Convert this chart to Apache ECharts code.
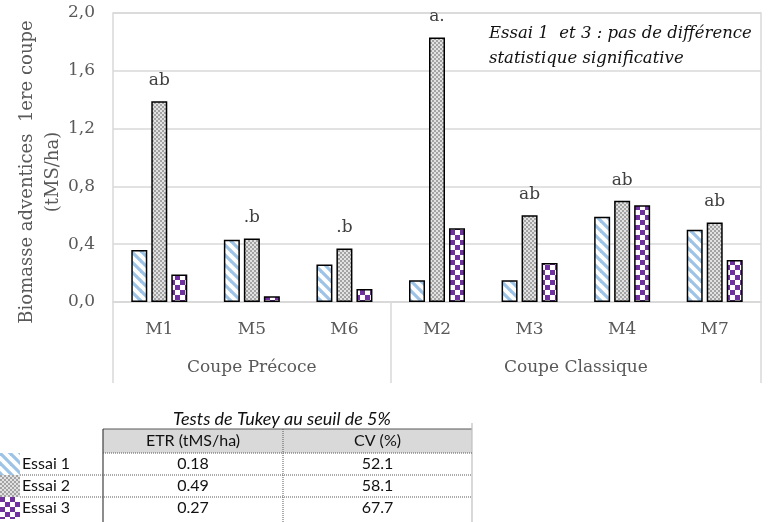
<!DOCTYPE html>
<html>
<head>
<meta charset="utf-8">
<script src="https://cdn.jsdelivr.net/npm/echarts@6/dist/echarts.min.js"></script>
<style>
  html, body { margin: 0; padding: 0; background: #fff; }
  #chart { width: 768px; height: 522px; }
</style>
</head>
<body>
<div id="chart"></div>
<script>
const categories = ['M1', 'M5', 'M6', 'M2', 'M3', 'M4', 'M7'];
const essai1 = [0.36, 0.43, 0.26, 0.15, 0.15, 0.59, 0.50];
const essai2 = [1.39, 0.44, 0.37, 1.83, 0.60, 0.70, 0.55];
const essai3 = [0.19, 0.04, 0.09, 0.51, 0.27, 0.67, 0.29];
const tukeyLetters = ['ab', '.b', '.b', 'a.', 'ab', 'ab', 'ab'];

const groupNames = ['Coupe Précoce', 'Coupe Classique'];
const groupSizes = [3, 4];

const trials = ['Essai 1', 'Essai 2', 'Essai 3'];
const etr = ['0.18', '0.49', '0.27'];
const cv = ['52.1', '58.1', '67.7'];

const serif = 'DejaVu Serif';
const sans = 'Lato';
const axisGrey = '#595959';
const gridGrey = '#d9d9d9';

// motifs des barres
function stripes() {
  const s = 10;
  const c = document.createElement('canvas');
  c.width = s; c.height = s;
  const ctx = c.getContext('2d');
  ctx.fillStyle = '#fff';
  ctx.fillRect(0, 0, s, s);
  ctx.strokeStyle = '#9dc3e6';
  ctx.lineWidth = 3.2;
  for (let k = -1; k <= 1; k++) {
    ctx.beginPath();
    ctx.moveTo(k * s - 1, -1);
    ctx.lineTo(k * s + s + 1, s + 1);
    ctx.stroke();
  }
  return c;
}
function greyDots() {
  const c = document.createElement('canvas');
  c.width = 4; c.height = 4;
  const ctx = c.getContext('2d');
  ctx.fillStyle = '#e2e2e2';
  ctx.fillRect(0, 0, 4, 4);
  ctx.fillStyle = '#a3a3a3';
  ctx.fillRect(0, 0, 2, 2);
  ctx.fillRect(2, 2, 2, 2);
  return c;
}
function checker() {
  const c = document.createElement('canvas');
  c.width = 10; c.height = 10;
  const ctx = c.getContext('2d');
  ctx.fillStyle = '#fff';
  ctx.fillRect(0, 0, 10, 10);
  ctx.fillStyle = '#7030a0';
  ctx.fillRect(0, 0, 5, 5);
  ctx.fillRect(5, 5, 5, 5);
  return c;
}

const patterns = [stripes(), greyDots(), checker()];
const seriesData = [essai1, essai2, essai3];

// bornes et centres des groupes sur un axe 0..7
const bounds = [0];
groupSizes.forEach(n => bounds.push(bounds[bounds.length - 1] + n));
const centers = groupSizes.map((n, i) => bounds[i] + n / 2);

const chart = echarts.init(document.getElementById('chart'));

// tableau de Tukey
const tableLeft = 103, tableRight = 472, colDiv = 283;
const headTop = 429, headH = 24, rowH = 22;
const tableBottom = 522;
const col1 = (tableLeft + colDiv) / 2, col2 = (colDiv + tableRight) / 2;
const dotted = { stroke: '#595959', lineWidth: 1, lineDash: [1, 1] };

const graphics = [
  {
    type: 'text', x: 489, y: 21,
    style: {
      text: 'Essai 1  et 3 : pas de différence\nstatistique significative',
      font: 'italic 16.5px "' + serif + '"', fill: '#111', lineHeight: 25
    }
  },
  {
    type: 'text', x: 40, y: 172, rotation: Math.PI / 2,
    style: {
      text: 'Biomasse adventices  1ere coupe\n(tMS/ha)',
      font: '18px "' + serif + '"', fill: axisGrey, lineHeight: 26,
      align: 'center', verticalAlign: 'middle'
    }
  },
  {
    type: 'text', x: 282, y: 419,
    style: {
      text: 'Tests de Tukey au seuil de 5%', font: 'italic 18px "' + sans + '"',
      fill: '#111', align: 'center', verticalAlign: 'middle'
    }
  },
  {
    type: 'rect', shape: { x: tableLeft, y: headTop, width: tableRight - tableLeft, height: headH },
    style: { fill: gridGrey }
  },
  {
    type: 'text', x: col1, y: headTop + headH / 2,
    style: { text: 'ETR (tMS/ha)', font: '16px "' + sans + '"', fill: '#111', align: 'center', verticalAlign: 'middle' }
  },
  {
    type: 'text', x: col2, y: headTop + headH / 2,
    style: { text: 'CV (%)', font: '16px "' + sans + '"', fill: '#111', align: 'center', verticalAlign: 'middle' }
  },
  {
    type: 'line', shape: { x1: tableLeft, y1: headTop, x2: tableRight, y2: headTop },
    style: { stroke: '#595959', lineWidth: 1.2 }
  },
  {
    type: 'line', shape: { x1: tableLeft, y1: headTop, x2: tableLeft, y2: tableBottom },
    style: { stroke: '#404040', lineWidth: 1.2 }
  },
  {
    type: 'line', shape: { x1: tableRight, y1: headTop - 6, x2: tableRight, y2: tableBottom },
    style: { stroke: '#bfbfbf', lineWidth: 1.2 }
  },
  {
    type: 'line', shape: { x1: colDiv, y1: headTop, x2: colDiv, y2: tableBottom },
    style: dotted
  },
  {
    type: 'line', shape: { x1: tableLeft, y1: headTop + headH, x2: tableRight, y2: headTop + headH },
    style: dotted
  }
];

trials.forEach((t, i) => {
  const top = headTop + headH + i * rowH;
  graphics.push({
    type: 'text', x: col1, y: top + rowH / 2,
    style: { text: etr[i], font: '16px "' + sans + '"', fill: '#111', align: 'center', verticalAlign: 'middle' }
  });
  graphics.push({
    type: 'text', x: col2, y: top + rowH / 2,
    style: { text: cv[i], font: '16px "' + sans + '"', fill: '#111', align: 'center', verticalAlign: 'middle' }
  });
  if (i < trials.length - 1) {
    graphics.push({
      type: 'line', shape: { x1: 0, y1: top + rowH, x2: tableRight, y2: top + rowH },
      style: dotted
    });
  }
});

const option = {
  animation: false,
  backgroundColor: '#fff',
  grid: {
    left: 113, right: 7, top: 13, bottom: 220,
    show: true, borderColor: gridGrey, borderWidth: 1.5
  },
  legend: {
    data: trials,
    orient: 'vertical',
    left: 0, top: headTop + headH,
    padding: 0,
    itemWidth: 20, itemHeight: rowH, itemGap: 0,
    icon: 'rect',
    itemStyle: { borderWidth: 0 },
    selectedMode: false,
    textStyle: { fontFamily: sans, fontSize: 16, color: '#111', padding: [0, 0, 0, -3] }
  },
  xAxis: [
    {
      type: 'category',
      data: categories,
      axisLine: { show: true, lineStyle: { color: gridGrey, width: 1.5 } },
      axisTick: { show: false },
      axisLabel: { margin: 19, fontFamily: serif, fontSize: 17, color: axisGrey }
    },
    {
      type: 'value',
      position: 'bottom',
      min: 0, max: bounds[bounds.length - 1],
      axisLine: { show: false },
      splitLine: { show: false },
      axisTick: {
        show: true, customValues: bounds, length: 81, inside: false,
        lineStyle: { color: gridGrey, width: 1.5 }
      },
      axisLabel: {
        customValues: centers, margin: 57,
        fontFamily: serif, fontSize: 17, color: axisGrey,
        formatter: v => groupNames[centers.indexOf(v)] || ''
      }
    }
  ],
  yAxis: {
    type: 'value',
    min: 0, max: 2, interval: 0.4,
    axisLine: { show: false },
    axisTick: { show: false },
    splitLine: { lineStyle: { color: gridGrey, width: 1.5 } },
    axisLabel: {
      margin: 18, fontFamily: serif, fontSize: 17, color: axisGrey,
      formatter: v => v.toFixed(1).replace('.', ',')
    }
  },
  series: trials.map((name, i) => ({
    name: name,
    type: 'bar',
    xAxisIndex: 0,
    data: seriesData[i],
    barWidth: 16,
    barGap: '25%',
    itemStyle: {
      color: { image: patterns[i], repeat: 'repeat' },
      borderColor: '#000',
      borderWidth: 1.5
    },
    label: i === 1 ? {
      show: true, position: 'top', distance: 12,
      fontFamily: serif, fontSize: 17, color: '#404040',
      formatter: p => tukeyLetters[p.dataIndex]
    } : { show: false }
  })),
  graphic: graphics
};

chart.setOption(option);
</script>
</body>
</html>
